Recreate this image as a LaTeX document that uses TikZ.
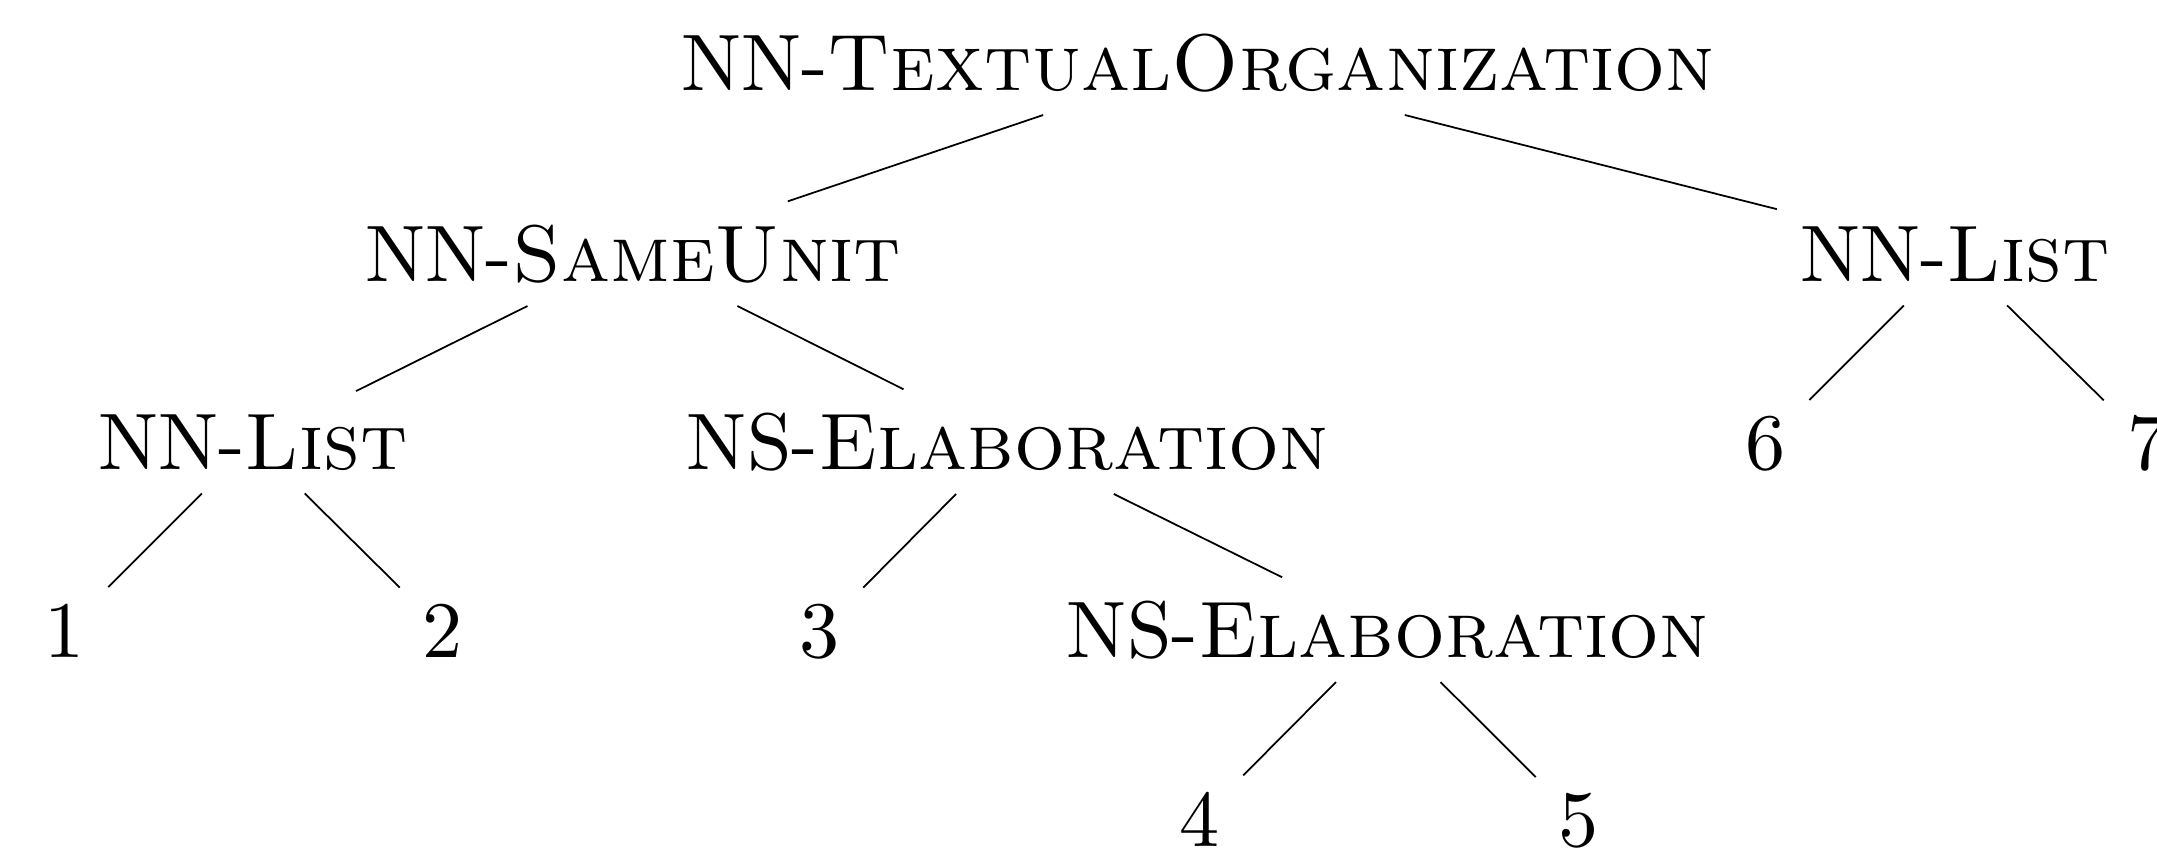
\documentclass[tikz,border=0pt]{standalone}
\begin{document}
\begin{tikzpicture}[x=0.1248pt,y=-0.1248pt,
  lbl/.style={anchor=base,font=\normalsize,inner sep=2.7pt},
  edge/.style={draw,line width=0.22pt}]
\useasboundingbox (0,0) rectangle (2157,855);
\node[lbl] (root) at (1198,90) {NN-\textsc{TextualOrganization}};
\node[lbl] (su) at (633,281) {NN-\textsc{SameUnit}};
\node[lbl] (lr) at (1955,281) {NN-\textsc{List}};
\node[lbl] (ll) at (253,469) {NN-\textsc{List}};
\node[lbl] (e1) at (1008,469) {NS-\textsc{Elaboration}};
\node[lbl] (n6) at (1766,469) {6};
\node[lbl] (n7) at (2147,469) {7};
\node[lbl] (n1) at (65,657) {1};
\node[lbl] (n2) at (443,657) {2};
\node[lbl] (n3) at (820,657) {3};
\node[lbl] (e2) at (1388,657) {NS-\textsc{Elaboration}};
\node[lbl] (n4) at (1200,846) {4};
\node[lbl] (n5) at (1579,846) {5};
\draw[edge] (root) -- (su);
\draw[edge] (root) -- (lr);
\draw[edge] (su) -- (ll);
\draw[edge] (su) -- (e1);
\draw[edge] (lr) -- (n6);
\draw[edge] (lr) -- (n7);
\draw[edge] (ll) -- (n1);
\draw[edge] (ll) -- (n2);
\draw[edge] (e1) -- (n3);
\draw[edge] (e1) -- (e2);
\draw[edge] (e2) -- (n4);
\draw[edge] (e2) -- (n5);
\end{tikzpicture}
\end{document}
